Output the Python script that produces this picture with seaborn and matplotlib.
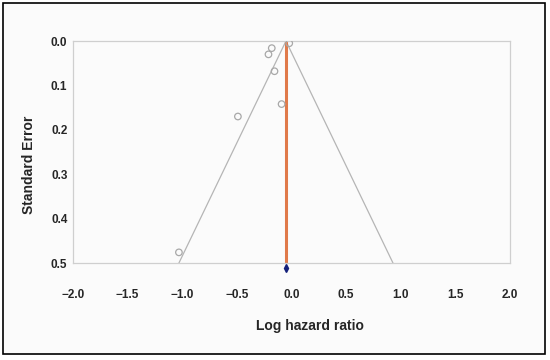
import numpy as np
import pandas as pd
import seaborn as sns
import matplotlib.pyplot as plt
from matplotlib.patches import Rectangle

# Study estimates
log_hr = [-0.02, -0.18, -0.21, -0.155, -0.09, -0.49, -1.03]
std_err = [0.005, 0.016, 0.030, 0.068, 0.142, 0.170, 0.476]
pooled_effect = -0.05
se_max = 0.5
x_ticks = [-2.0, -1.5, -1.0, -0.5, 0.0, 0.5, 1.0, 1.5, 2.0]
y_ticks = [0.0, 0.1, 0.2, 0.3, 0.4, 0.5]

df = pd.DataFrame({'Log hazard ratio': log_hr, 'Standard Error': std_err})

sns.set_theme(style='white')
plt.rcParams['font.family'] = ['Liberation Sans', 'DejaVu Sans']

fig = plt.figure(figsize=(5.5, 3.6), dpi=100, facecolor='white')
# outer frame of the figure, kept behind the axes
frame = Rectangle((0.0055, 0.017), 0.9855, 0.975, transform=fig.transFigure,
                  facecolor='#fbfbfb', edgecolor='black', linewidth=1.2, zorder=-10)
fig.add_artist(frame)
ax = fig.add_axes([0.1327, 0.2694, 0.7943, 0.6166])
ax.set_facecolor('#fbfbfb')

# funnel (pseudo 95% limits)
se_line = np.array([0.0, se_max])
ax.plot(pooled_effect - 1.96 * se_line, se_line, color='#b5b5b5', linewidth=0.9, zorder=1)
ax.plot(pooled_effect + 1.96 * se_line, se_line, color='#b5b5b5', linewidth=0.9, zorder=1)

# pooled effect line
ax.plot([pooled_effect, pooled_effect], [0.0, se_max], color='#e07a4a', linewidth=2.2, zorder=2)

sns.scatterplot(data=df, x='Log hazard ratio', y='Standard Error', ax=ax,
                marker='o', s=22, facecolor='none', edgecolor='#a8a8a8', linewidth=0.9, zorder=3)

# summary diamond below the axis
ax.plot([pooled_effect], [se_max + 0.012], marker='d', markersize=4, color='#14207a',
        clip_on=False, zorder=4)

ax.set_xlim(-2.0, 2.0)
ax.set_ylim(se_max, 0.0)
ax.set_xticks(x_ticks)
ax.set_yticks(y_ticks)
ax.set_xticklabels([f'{t:.1f}'.replace('-', '\u2212') for t in x_ticks], fontsize=8.5, fontweight='bold')
ax.set_yticklabels([f'{t:.1f}' for t in y_ticks], fontsize=8.5, fontweight='bold')
ax.tick_params(axis='x', direction='inout', length=3, width=0.6, color='#bbbbbb', pad=17)
ax.tick_params(axis='y', length=0, pad=4)

for side in ['top', 'left', 'right', 'bottom']:
    ax.spines[side].set_color('#cfcfcf')
    ax.spines[side].set_linewidth(0.9)

ax.set_xlabel('Log hazard ratio', fontsize=10, fontweight='bold')
ax.set_ylabel('Standard Error', fontsize=10, fontweight='bold')
ax.xaxis.set_label_coords(0.542, -0.25)
ax.yaxis.set_label_coords(-0.085, 0.441)

fig.savefig('out.png', dpi=100)
